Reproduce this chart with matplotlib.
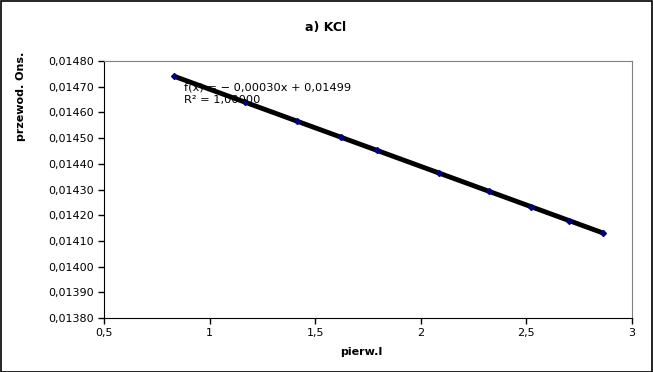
import numpy as np
import matplotlib
matplotlib.use('Agg')
import matplotlib.pyplot as plt
from matplotlib.ticker import FuncFormatter

# -----------------------------------------------------------------------------------------

pierw_I = [0.831, 1.168, 1.414, 1.622, 1.793, 2.086, 2.323, 2.522, 2.702, 2.863]
przewod = [0.014741, 0.014640, 0.014566, 0.014503, 0.014452, 0.014364, 0.014293, 0.014233, 0.014179, 0.014131]

title = 'a) KCl'
xlabel = 'pierw.I'
ylabel = 'przewod. Ons.'

# -----------------------------------------------------------------------------------------

x = np.array(pierw_I)
y = np.array(przewod)
a, b = np.polyfit(x, y, 1)
r2 = np.corrcoef(x, y)[0, 1]**2

fig = plt.figure(figsize=(6.53, 3.72), dpi=100)
ax = fig.add_axes([104/653., 1 - 318/372., (632-104)/653., (318-61)/372.])

xs = np.array([x.min(), x.max()])
ax.plot(xs, a*xs + b, color='black', lw=3.5, solid_capstyle='butt', zorder=2)
ax.plot(x, y, 'D', color='navy', ms=3, zorder=3)

ax.set_xlim(0.5, 3.)
ax.set_ylim(0.0138, 0.0148)
ax.set_xticks(np.arange(0.5, 3.01, 0.5))
ax.set_yticks(np.arange(0.0138, 0.01481, 0.0001))

comma = lambda s: s.replace('.', ',')
ax.xaxis.set_major_formatter(FuncFormatter(lambda v, p: comma('%g' % v)))
ax.yaxis.set_major_formatter(FuncFormatter(lambda v, p: comma('%.5f' % v)))
ax.tick_params(labelsize=8, length=4, direction='out', width=1, pad=3)

for side in ['top', 'right']:
    ax.spines[side].set_color('gray')
for side in ['left', 'bottom']:
    ax.spines[side].set_color('black')

eq = 'f(x) = \u2212 %sx + %s\nR\u00b2 = %s' % (comma('%.5f' % abs(a)), comma('%.5f' % b), comma('%.5f' % r2))
fig.text(184/653., 1 - 83/372., eq, fontsize=8.2, va='top', ha='left', linespacing=1.3, zorder=1)

fig.text(326/653., 1 - 27/372., title, fontsize=9, fontweight='bold', ha='center', va='center')
fig.text(361/653., 1 - 352/372., xlabel, fontsize=8, fontweight='bold', ha='center', va='center')
fig.text(21/653., 1 - 96/372., ylabel, fontsize=8, fontweight='bold', ha='center', va='center', rotation=90)

fig.patches.append(plt.Rectangle((0.5/653, 0.5/372), 1 - 1.5/653, 1 - 1.5/372, transform=fig.transFigure,
                                 fill=False, edgecolor='black', lw=1.2))

fig.savefig('out.png', dpi=100)
